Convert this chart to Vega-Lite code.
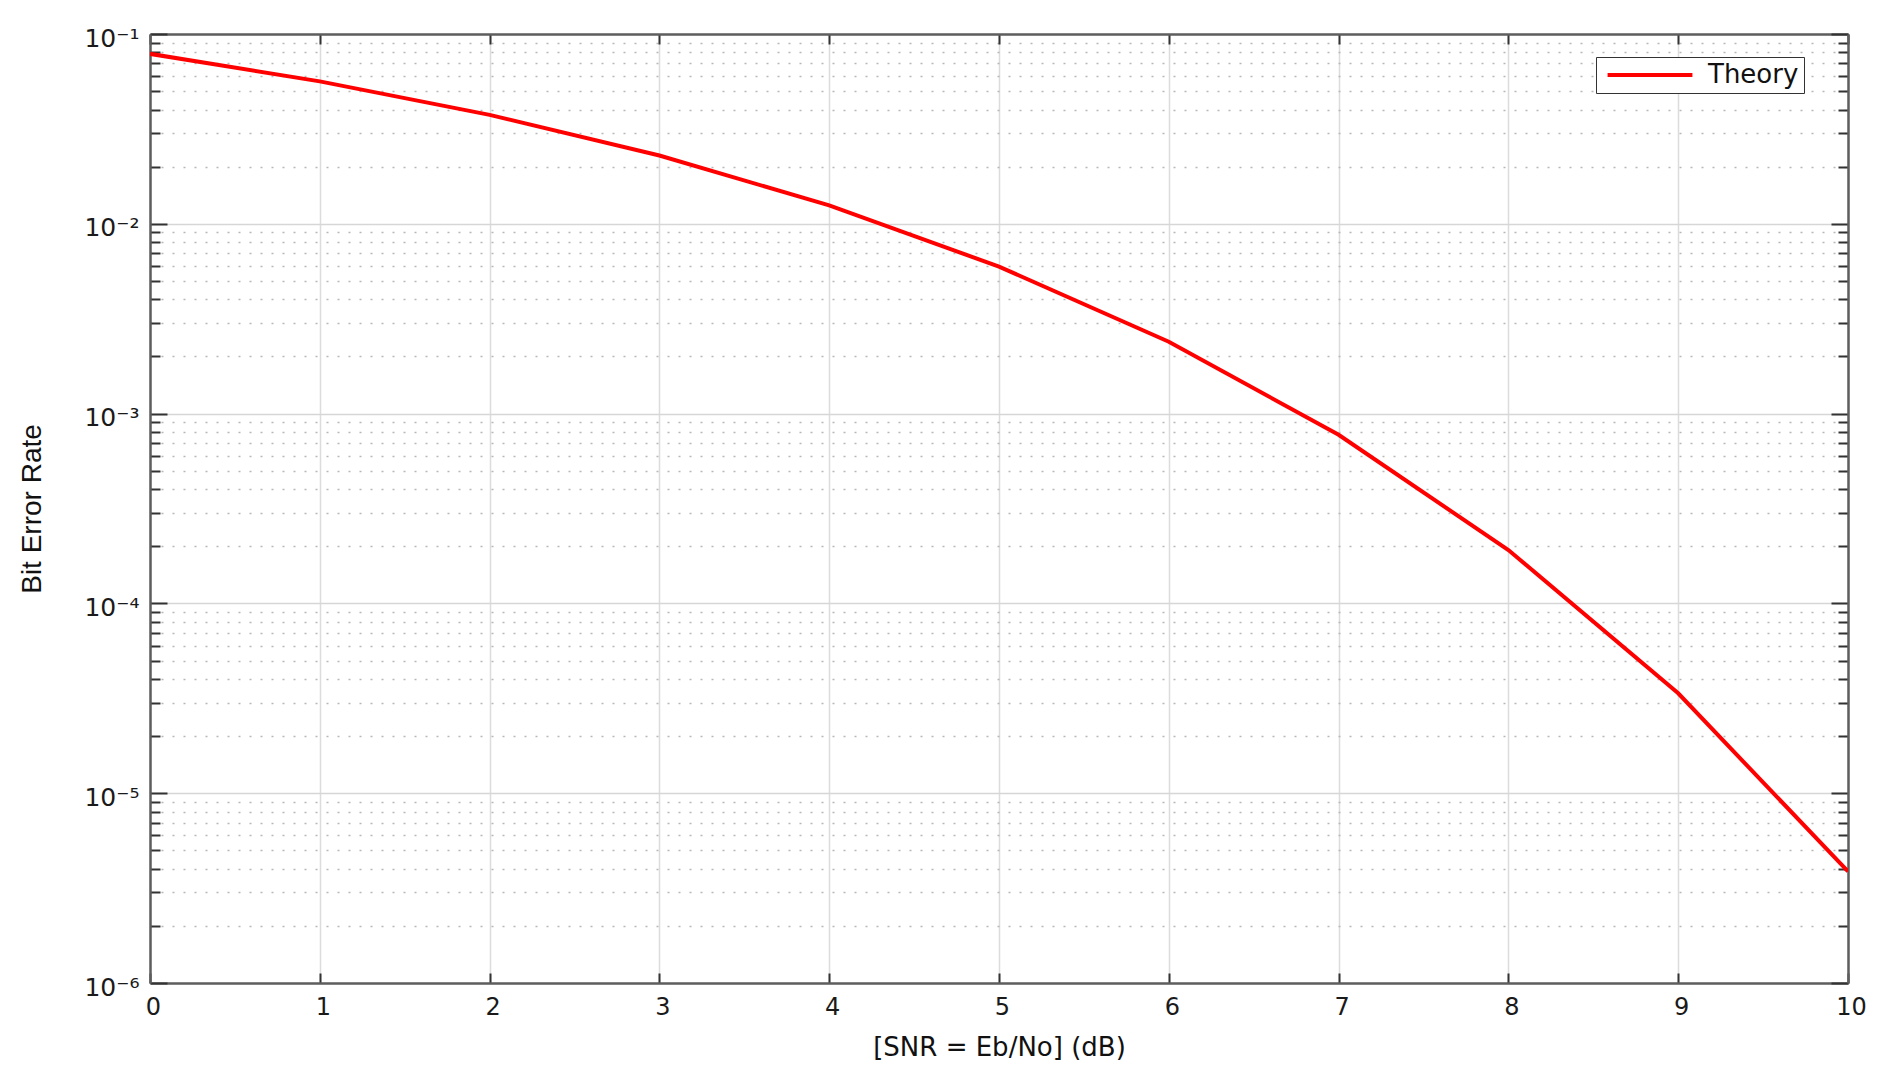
{
  "$schema": "https://vega.github.io/schema/vega-lite/v6.json",
  "width": 1698,
  "height": 949,
  "autosize": {"type": "none"},
  "padding": {"left": 150, "top": 34, "right": 40, "bottom": 98},
  "background": "white",
  "config": {
    "view": {"stroke": null},
    "font": "DejaVu Sans",
    "legend": {
      "orient": "none",
      "legendX": 1446,
      "legendY": 23,
      "title": null,
      "symbolType": "M-4,0L4,0",
      "symbolSize": 450,
      "symbolStrokeWidth": 4,
      "symbolOffset": 36,
      "labelOffset": 45,
      "labelFont": "DejaVu Sans",
      "labelFontSize": 26,
      "labelColor": "#111",
      "strokeColor": "#333",
      "fillColor": "white",
      "padding": 5,
      "cornerRadius": 0
    }
  },
  "data": {
    "values": [
      {"snr": 0, "ber": 0.0786, "series": "Theory"},
      {"snr": 1, "ber": 0.0563, "series": "Theory"},
      {"snr": 2, "ber": 0.0375, "series": "Theory"},
      {"snr": 3, "ber": 0.0229, "series": "Theory"},
      {"snr": 4, "ber": 0.0125, "series": "Theory"},
      {"snr": 5, "ber": 0.00595, "series": "Theory"},
      {"snr": 6, "ber": 0.00239, "series": "Theory"},
      {"snr": 7, "ber": 0.000773, "series": "Theory"},
      {"snr": 8, "ber": 0.000191, "series": "Theory"},
      {"snr": 9, "ber": 0.0000336, "series": "Theory"},
      {"snr": 10, "ber": 0.00000387, "series": "Theory"}
    ]
  },
  "resolve": {"axis": {"x": "independent", "y": "independent"}},
  "layer": [
    {
      "mark": {"type": "line", "strokeWidth": 4, "clip": true},
      "encoding": {
        "x": {
          "field": "snr", "type": "quantitative",
          "scale": {"domain": [0, 10], "nice": false, "zero": false},
          "axis": {
            "orient": "bottom",
            "title": "[SNR = Eb/No] (dB)",
            "titleFont": "DejaVu Sans", "titleFontSize": 26, "titleFontWeight": "normal", "titleColor": "#111",
            "titlePadding": 15,
            "values": [0, 1, 2, 3, 4, 5, 6, 7, 8, 9, 10],
            "format": "d",
            "labelFont": "DejaVu Sans", "labelFontSize": 24, "labelColor": "#1a1a1a",
            "labelFlush": false, "labelOverlap": false,
            "labelPadding": 22, "labelOffset": 3,
            "tickSize": -10, "tickColor": "#333", "tickWidth": 2,
            "domainColor": "#5e5e5e", "domainWidth": 2.5,
            "grid": true, "gridColor": "#dcdcdc", "gridWidth": 1.5
          }
        },
        "y": {
          "field": "ber", "type": "quantitative",
          "scale": {"type": "log", "domain": [0.000001, 0.1], "nice": false},
          "axis": {
            "orient": "left",
            "title": "Bit Error Rate",
            "titleFont": "Liberation Sans", "titleFontSize": 28, "titleFontWeight": "normal", "titleColor": "#111",
            "titlePadding": 37,
            "values": [1e-6, 2e-6, 3e-6, 4e-6, 5e-6, 6e-6, 7e-6, 8e-6, 9e-6, 1e-5, 2e-5, 3e-5, 4e-5, 5e-5, 6e-5, 7e-5, 8e-5, 9e-5, 1e-4, 2e-4, 3e-4, 4e-4, 5e-4, 6e-4, 7e-4, 8e-4, 9e-4, 1e-3, 2e-3, 3e-3, 4e-3, 5e-3, 6e-3, 7e-3, 8e-3, 9e-3, 1e-2, 2e-2, 3e-2, 4e-2, 5e-2, 6e-2, 7e-2, 8e-2, 9e-2, 1e-1],
            "labelExpr": "abs(log(datum.value)/LN10 - round(log(datum.value)/LN10)) < 0.001 ? '10' + ['⁰','⁻¹','⁻²','⁻³','⁻⁴','⁻⁵','⁻⁶'][-round(log(datum.value)/LN10)] : ''",
            "labelFont": "DejaVu Sans", "labelFontSize": 25, "labelColor": "#1a1a1a",
            "labelFlush": false, "labelOverlap": false,
            "labelPadding": 28, "labelOffset": 4, "labelBaseline": "middle",
            "tickSize": {"condition": {"test": "abs(log(datum.value)/LN10 - round(log(datum.value)/LN10)) < 0.001", "value": -17}, "value": -10},
            "tickColor": "#333", "tickWidth": 2,
            "domainColor": "#5e5e5e", "domainWidth": 2.5,
            "grid": true,
            "gridColor": {"condition": {"test": "abs(log(datum.value)/LN10 - round(log(datum.value)/LN10)) < 0.001", "value": "#d6d6d6"}, "value": "#b8b8b8"},
            "gridDash": {"condition": {"test": "abs(log(datum.value)/LN10 - round(log(datum.value)/LN10)) < 0.001", "value": []}, "value": [2, 9]},
            "gridWidth": 1.5
          }
        },
        "color": {
          "field": "series", "type": "nominal",
          "scale": {"domain": ["Theory"], "range": ["#ff0000"]}
        }
      }
    },
    {
      "mark": {"type": "line", "opacity": 0},
      "encoding": {
        "x": {
          "field": "snr", "type": "quantitative",
          "axis": {
            "orient": "top", "title": null, "labels": false,
            "values": [0, 1, 2, 3, 4, 5, 6, 7, 8, 9, 10],
            "tickSize": -10, "tickColor": "#333", "tickWidth": 2,
            "domainColor": "#5e5e5e", "domainWidth": 2.5, "grid": false
          }
        },
        "y": {
          "field": "ber", "type": "quantitative",
          "axis": {
            "orient": "right", "title": null, "labels": false,
            "values": [1e-6, 2e-6, 3e-6, 4e-6, 5e-6, 6e-6, 7e-6, 8e-6, 9e-6, 1e-5, 2e-5, 3e-5, 4e-5, 5e-5, 6e-5, 7e-5, 8e-5, 9e-5, 1e-4, 2e-4, 3e-4, 4e-4, 5e-4, 6e-4, 7e-4, 8e-4, 9e-4, 1e-3, 2e-3, 3e-3, 4e-3, 5e-3, 6e-3, 7e-3, 8e-3, 9e-3, 1e-2, 2e-2, 3e-2, 4e-2, 5e-2, 6e-2, 7e-2, 8e-2, 9e-2, 1e-1],
            "tickSize": {"condition": {"test": "abs(log(datum.value)/LN10 - round(log(datum.value)/LN10)) < 0.001", "value": -17}, "value": -10},
            "tickColor": "#333", "tickWidth": 2,
            "domainColor": "#5e5e5e", "domainWidth": 2.5, "grid": false
          }
        }
      }
    }
  ]
}
